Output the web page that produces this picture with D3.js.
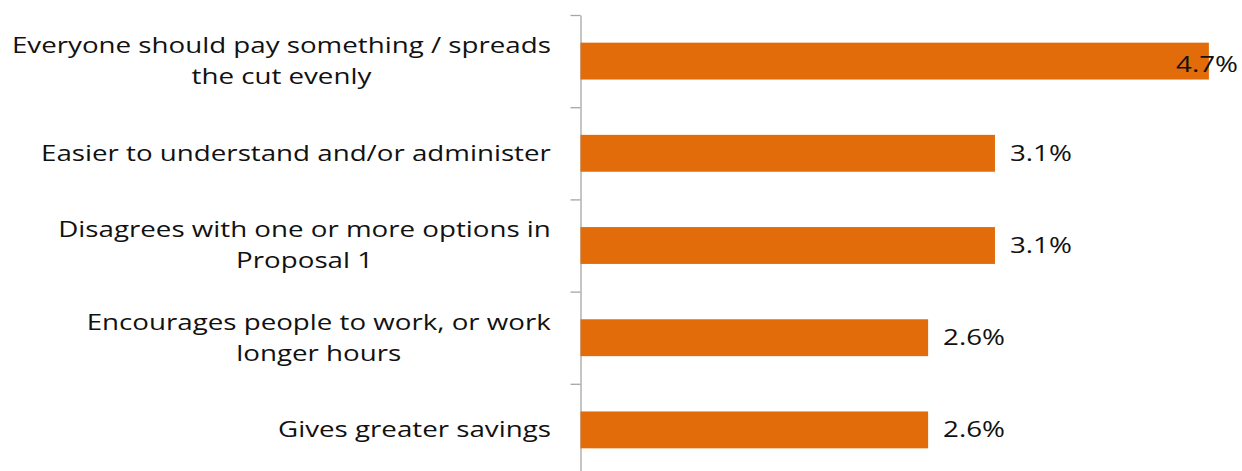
<!DOCTYPE html>
<html>
<head>
<meta charset="utf-8">
<script src="https://cdn.jsdelivr.net/npm/d3@7"></script>
<style>
  body { margin: 0; background: #fff; }
  text { font-family: "Open Sans", sans-serif; fill: #111; }
</style>
</head>
<body>
<div id="chart"></div>
<script>
var width = 1242,
    height = 471;

// data
var categories = [
  ["Everyone should pay something / spreads", "the cut evenly"],
  ["Easier to understand and/or administer"],
  ["Disagrees with one or more options in", "Proposal 1"],
  ["Encourages people to work, or work", "longer hours"],
  ["Gives greater savings"]
];
var values = [4.7, 3.1, 3.1, 2.6, 2.6];

var barColor = "#E36C0A",
    axisColor = "#A6A6A6",
    fontSize = 21,
    lineGap = 31,
    stretch = 1.32;

var axisX = 580.5,
    labelRight = 551;

var svg = d3.select("#chart").append("svg")
  .attr("width", width)
  .attr("height", height);

var x = d3.scaleLinear()
  .domain([0, 5])
  .range([axisX, 1249]);

var y = d3.scaleBand()
  .domain(d3.range(values.length))
  .range([15, 476])
  .paddingInner(0.6)
  .paddingOuter(0.3);

// tick marks sit between categories
var tickScale = d3.scaleLinear()
  .domain([0, values.length])
  .range([15, 476]);

var axis = svg.append("g")
  .attr("transform", "translate(" + axisX + ",0)")
  .call(d3.axisLeft(tickScale).ticks(values.length).tickFormat("").tickSizeInner(10).tickSizeOuter(0));
axis.select(".domain").attr("stroke", axisColor).attr("stroke-width", 1.3);
axis.selectAll(".tick line").attr("stroke", axisColor).attr("stroke-width", 1.3);

// bars
svg.append("g").selectAll("rect")
  .data(values)
  .enter()
  .append("rect")
  .attr("x", x(0))
  .attr("y", function(d, i) { return y(i); })
  .attr("width", function(d) { return x(d) - x(0); })
  .attr("height", y.bandwidth())
  .attr("fill", barColor);

// category labels: centred lines, block right-aligned to labelRight
var labels = svg.append("g").selectAll("g")
  .data(categories)
  .enter()
  .append("g");

labels.each(function(lines, i) {
  var gEl = d3.select(this);
  var cy = y(i) + y.bandwidth() / 2;
  var texts = gEl.selectAll("text")
    .data(lines)
    .enter()
    .append("text")
    .attr("text-anchor", "middle")
    .attr("font-size", fontSize)
    .attr("y", function(d, j) { return cy + (j - (lines.length - 1) / 2) * lineGap; })
    .attr("dy", "0.35em")
    .text(function(d) { return d; });
  var maxW = 0;
  texts.each(function() { maxW = Math.max(maxW, this.getComputedTextLength()); });
  var cx = labelRight - maxW * stretch / 2;
  gEl.attr("transform", "translate(" + cx + ",0) scale(" + stretch + ",1)");
});

// value labels (the one that would run off the edge is pulled back in)
svg.append("g").selectAll("text")
  .data(values)
  .enter()
  .append("text")
  .attr("font-size", fontSize)
  .attr("dy", "0.35em")
  .text(function(d) { return d3.format(".1f")(d) + "%"; })
  .attr("transform", function(d, i) {
    var w = this.getComputedTextLength() * stretch;
    var tx = x(d) + 15, ty = y(i) + y.bandwidth() / 2;
    if (tx + w > width - 4) { tx = width - 4 - w; ty += 4; }
    return "translate(" + tx + "," + ty + ") scale(" + stretch + ",1)";
  });
</script>
</body>
</html>
